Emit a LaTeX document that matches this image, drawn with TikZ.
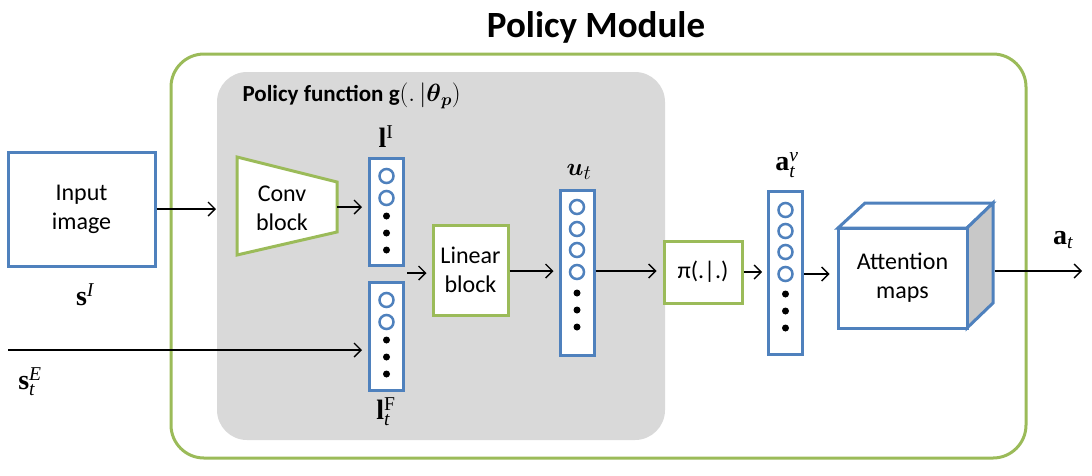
\documentclass[tikz,border=0pt]{standalone}
\usepackage{fontspec}
\usepackage{amsmath}
\setmainfont{Carlito}
\newfontfamily\tnr{Liberation Serif}
\usetikzlibrary{arrows.meta}
\definecolor{myblue}{HTML}{4F81BD}
\definecolor{mygreen}{HTML}{9BBB59}
\definecolor{mygray}{HTML}{D9D9D9}
\definecolor{sidegray}{HTML}{C8C8C8}
\begin{document}
\begin{tikzpicture}[x=1pt,y=-1pt,
  vbox/.style={draw=myblue,line width=3pt,fill=white,minimum width=34pt,inner sep=0pt},
  gbox/.style={draw=mygreen,line width=3pt,fill=white,inner sep=0pt,align=center,font=\fontsize{24}{29}\selectfont},
  bbox/.style={draw=myblue,line width=3pt,fill=white,inner sep=0pt,align=center,font=\fontsize{24}{29}\selectfont},
  vcirc/.style={draw=myblue,line width=2.5pt},
  vdot/.style={fill=black},
  arr/.style={line width=1.4pt,-{Straight Barb[length=7pt,width=14pt,line width=1.4pt]}},
  lab/.style={font=\fontsize{28}{30}\selectfont\tnr\bfseries,inner sep=0pt}]
\useasboundingbox (0,0) rectangle (1092,475);
% title
\node[font=\fontsize{37}{39}\selectfont\bfseries] (title) at (596,27) {Policy Module};
% outer module
\draw[mygreen,line width=3pt,rounded corners=33pt] (171,54) rectangle (1026,458);
% policy function area
\fill[mygray,rounded corners=30pt] (217,72) rectangle (665,440);
\node[font=\fontsize{23}{25}\selectfont\bfseries,anchor=west] (pf) at (239,96) {Policy function g$(.\,|\boldsymbol{\theta}_{\boldsymbol{p}})$};
% input image
\node[bbox,minimum width=147pt,minimum height=114pt] (inimg) at (81.5,209) {Input\\image};
\node[lab] (sI) at (85,295) {s$^{\text{\mdseries\itshape I}}$};
% conv block trapezoid
\draw[mygreen,line width=3pt,fill=white,line join=miter] (237,157) -- (337,182) -- (337,232) -- (237,255) -- cycle;
\node[font=\fontsize{24}{29}\selectfont,align=center] (conv) at (282,208) {Conv\\block};
\coordinate (convE) at (337,207);
% vectors
\node[vbox,minimum height=107pt] (lI) at (386.5,211.5) {};
\foreach \y in {176,198} \draw[vcirc] (386.5,\y) circle (7pt);
\foreach \y in {216,233,250} \fill[vdot] (386.5,\y) circle (3.5pt);
\node[lab] (lIlab) at (386,137) {l$^{\text{\mdseries I}}$};
\node[vbox,minimum height=108pt] (lF) at (386.5,336) {};
\foreach \y in {300,322} \draw[vcirc] (386.5,\y) circle (7pt);
\foreach \y in {340,357,374} \fill[vdot] (386.5,\y) circle (3.5pt);
\node[lab] (lFlab) at (386,412) {l$_{\text{\mdseries\itshape t}}^{\text{\mdseries F}}$};
% linear block
\node[gbox,minimum width=75pt,minimum height=90pt] (lin) at (470.5,270) {Linear\\block};
% u_t
\node[vbox,minimum height=165pt] (ut) at (577,272.5) {};
\foreach \y in {207,229,250,272} \draw[vcirc] (577,\y) circle (7pt);
\foreach \y in {293,310,327} \fill[vdot] (577,\y) circle (3.5pt);
\node[font=\fontsize{28}{30}\selectfont,inner sep=0pt] (utlab) at (579,172) {$\boldsymbol{u}_t$};
% pi block
\node[gbox,minimum width=78pt,minimum height=62pt] (pi) at (703,272) {π(.|.)};
% a_t^v
\node[vbox,minimum height=163pt] (av) at (785.5,272.5) {};
\foreach \y in {210,231,252,274} \draw[vcirc] (785.5,\y) circle (7pt);
\foreach \y in {294,311,328} \fill[vdot] (785.5,\y) circle (3.5pt);
\node[lab] (avlab) at (787,165) {a$_{\text{\mdseries\itshape t}}^{\text{\mdseries\itshape v}}$};
% attention cube
\draw[myblue,line width=3pt,fill=white,line join=miter] (838,228) -- (865,203) -- (993,203) -- (967,228) -- cycle;
\draw[myblue,line width=3pt,fill=sidegray,line join=miter] (967,228) -- (993,203) -- (993,303) -- (967,328) -- cycle;
\node[bbox,minimum width=129pt,minimum height=100pt] (att) at (902.5,278) {Attention\\maps};
\coordinate (attout) at (995,271);
\coordinate (outend) at (1082,271);
\node[lab] (atlab) at (1063,240) {a$_{\text{\mdseries\itshape t}}$};
% inputs
\coordinate (cin) at (216,209);
\coordinate (sEstart) at (8,350);
\node[lab] (sElab) at (30,382) {s$_{\text{\mdseries\itshape t}}^{\text{\mdseries\itshape E}}$};
\coordinate (mid) at (407,273);
% connectors
\draw[arr] (inimg.east) -- (cin);
\draw[arr,shorten >=6pt] (convE) -- (lI.west |- convE);
\draw[arr,shorten >=5pt] (mid) -- (lin.west |- mid);
\draw[arr,shorten >=5pt] (lin.east |- 0,271) -- (ut.west |- 0,271);
\draw[arr,shorten >=6pt] (ut.east |- 0,271) -- (pi.west |- 0,271);
\draw[arr,shorten >=5pt] (pi.east |- 0,272) -- (av.west |- 0,272);
\draw[arr,shorten >=7pt] (av.east |- 0,274) -- (att.west |- 0,274);
\draw[arr] (attout) -- (outend);
\draw[arr,shorten >=6pt] (sEstart) -- (lF.west |- sEstart);
\end{tikzpicture}
\end{document}
